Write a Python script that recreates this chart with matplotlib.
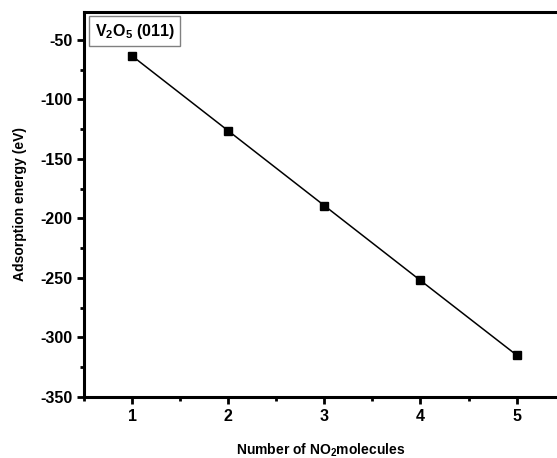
import matplotlib
matplotlib.use("Agg")
import matplotlib.pyplot as plt
from matplotlib.ticker import MultipleLocator

# data
n_molecules = [1, 2, 3, 4, 5]
energy_ev = [-63.4, -126.3, -189.2, -252.1, -314.8]

plt.rcParams["font.family"] = "Liberation Sans"
plt.rcParams["font.weight"] = "bold"
plt.rcParams["axes.unicode_minus"] = False
plt.rcParams["mathtext.fontset"] = "custom"
plt.rcParams["mathtext.rm"] = "Liberation Sans:bold"
plt.rcParams["mathtext.it"] = "Liberation Sans:bold"
plt.rcParams["mathtext.bf"] = "Liberation Sans:bold"

fig = plt.figure(figsize=(5.57, 4.58), dpi=100)
ax = fig.add_axes([0.1508, 0.1332, 0.8492, 0.8406])

ax.plot(n_molecules, energy_ev, color="black", lw=1.1,
        marker="s", markersize=5.5)

ax.set_xlim(0.5, 5.42)
ax.set_ylim(-350, -26.5)
ax.xaxis.set_major_locator(MultipleLocator(1))
ax.xaxis.set_minor_locator(MultipleLocator(0.5))
ax.yaxis.set_major_locator(MultipleLocator(50))
ax.yaxis.set_minor_locator(MultipleLocator(25))

for side in ("left", "bottom", "top"):
    ax.spines[side].set_linewidth(2.2)
ax.spines["right"].set_visible(False)
ax.tick_params(which="major", direction="out", length=5, width=2,
               labelsize=11.5, top=False, right=False)
ax.tick_params(which="minor", direction="out", length=3, width=2,
               top=False, right=False)

ax.set_xlabel("Number of NO$_2$molecules", fontsize=10, fontweight="bold",
              labelpad=13)
ax.set_ylabel("Adsorption energy (eV)", fontsize=10, fontweight="bold",
              labelpad=9)

ax.text(0.023, 0.975, "V$_2$O$_5$ (011)", transform=ax.transAxes,
        fontsize=11.5, fontweight="bold", va="top", ha="left",
        bbox=dict(boxstyle="square,pad=0.35", facecolor="white",
                  edgecolor="#808080", linewidth=1))

fig.savefig("out.png", dpi=100)
